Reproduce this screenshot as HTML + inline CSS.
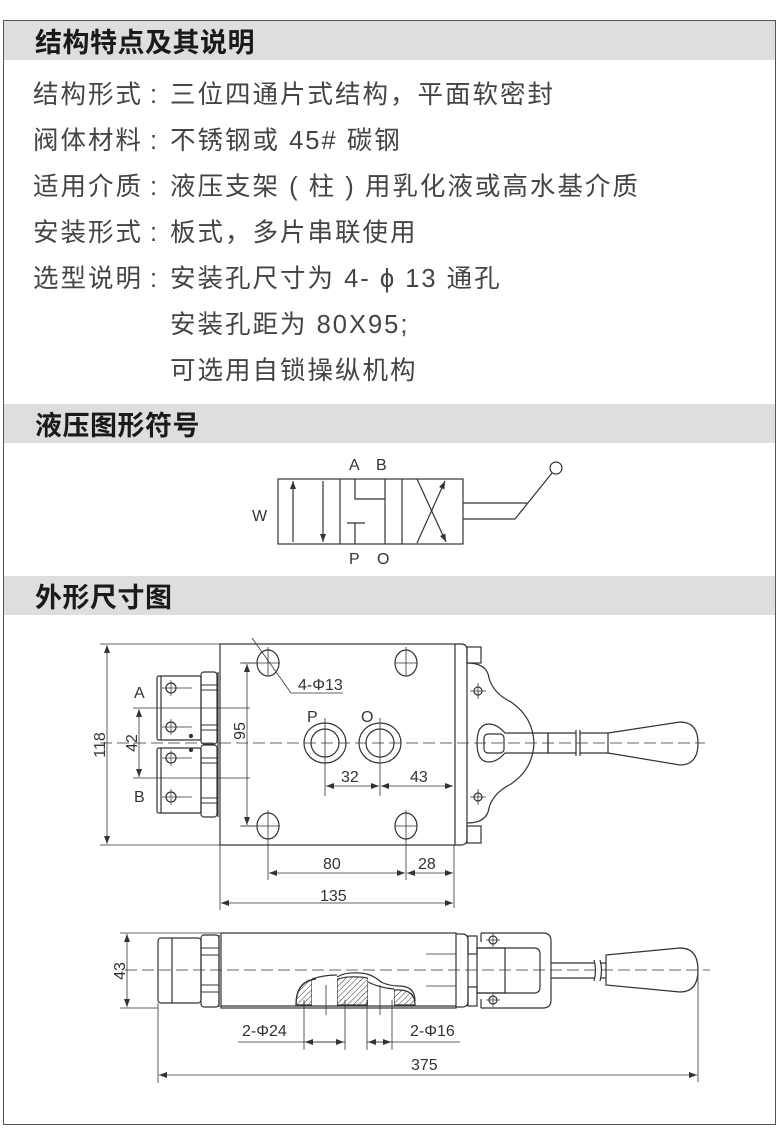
<!DOCTYPE html>
<html><head><meta charset="utf-8"><style>
body{margin:0;background:#fff;width:784px;height:1148px;position:relative;overflow:hidden;font-family:"Liberation Sans","Noto Sans CJK SC",sans-serif}
.frame{position:absolute;left:3px;top:20px;width:773px;height:1105px;border:1.5px solid #555;box-sizing:border-box}
.hd{position:absolute;left:4px;width:771px;height:39px;background:#dedede;font-weight:bold;font-size:27px;color:#1a1a1a;line-height:39px;padding-left:31px;box-sizing:border-box;font-family:"Noto Sans CJK SC",sans-serif;letter-spacing:0.5px}
.t{position:absolute;font-size:25.5px;color:#444;white-space:nowrap;line-height:30px;font-family:"Liberation Sans","Noto Sans CJK SC",sans-serif;letter-spacing:2px}
svg{position:absolute;left:0;top:0}
</style></head><body>
<div class="frame"></div>
<div class="hd" style="top:21px">结构特点及其说明</div>
<div class="hd" style="top:404px">液压图形符号</div>
<div class="hd" style="top:576px">外形尺寸图</div>

<div class="t" style="left:33px;top:80px">结构形式</div><div class="t" style="left:150px;top:80px">:</div><div class="t" style="left:170px;top:80px">三位四通片式结构，平面软密封</div>
<div class="t" style="left:33px;top:126px">阀体材料</div><div class="t" style="left:150px;top:126px">:</div><div class="t" style="left:170px;top:126px">不锈钢或 45# 碳钢</div>
<div class="t" style="left:33px;top:172px">适用介质</div><div class="t" style="left:150px;top:172px">:</div><div class="t" style="left:170px;top:172px">液压支架 ( 柱 ) 用乳化液或高水基介质</div>
<div class="t" style="left:33px;top:218px">安装形式</div><div class="t" style="left:150px;top:218px">:</div><div class="t" style="left:170px;top:218px">板式，多片串联使用</div>
<div class="t" style="left:33px;top:264px">选型说明</div><div class="t" style="left:150px;top:264px">:</div><div class="t" style="left:170px;top:264px">安装孔尺寸为 4- ϕ 13 通孔</div>
<div class="t" style="left:170px;top:310px">安装孔距为 80X95;</div>
<div class="t" style="left:170px;top:356px">可选用自锁操纵机构</div>

<svg width="784" height="1148" viewBox="0 0 784 1148" font-family="Liberation Sans, sans-serif" fill="none" stroke="#333" stroke-width="1.2">
<defs>
<marker id="ar" markerWidth="8" markerHeight="6" refX="8" refY="3" orient="auto-start-reverse" markerUnits="userSpaceOnUse"><path d="M0,0 L8,3 L0,6 z" fill="#333" stroke="none"/></marker>
<pattern id="hatch" width="4" height="4" patternUnits="userSpaceOnUse" patternTransform="rotate(45)"><line x1="0" y1="0" x2="0" y2="4" stroke="#333" stroke-width="1"/></pattern>
</defs>
<!-- hydraulic symbol -->
<g>
<rect x="278" y="479" width="185" height="65"/>
<line x1="340" y1="479" x2="340" y2="544"/><line x1="402" y1="479" x2="402" y2="544"/>
<line x1="293" y1="542" x2="293" y2="481" marker-end="url(#ar)"/>
<line x1="323" y1="481" x2="323" y2="542" marker-end="url(#ar)"/>
<polyline points="355,479 355,499 385,499"/><line x1="385" y1="479" x2="385" y2="544"/>
<line x1="347" y1="523" x2="365" y2="523"/><line x1="355" y1="523" x2="355" y2="544"/>
<line x1="417" y1="543" x2="445" y2="481" marker-end="url(#ar)"/>
<line x1="417" y1="479" x2="446" y2="542" marker-end="url(#ar)"/>
<polyline points="463,503 527,503"/><polyline points="463,519 515,519 552,473"/>
<circle cx="556" cy="468" r="6"/>
<g fill="#333" stroke="none" font-size="16"><text x="349" y="470">A</text><text x="376" y="470">B</text><text x="349" y="564">P</text><text x="377" y="564">O</text><text x="252" y="521">W</text></g>
</g>

<!-- top view -->
<g>
<rect x="220" y="644" width="235" height="201"/>
<path d="M455,644 h6 q6,0 6,6 v189 q0,6 -6,6 h-6"/>
<rect x="467" y="647" width="14" height="16"/><rect x="467" y="826" width="14" height="17"/>
<path d="M467,663 q20,0 22,15 q4,15 22,24 q22,15 23,41 q-1,26 -23,41 q-18,9 -22,24 q-2,15 -22,15"/>
<circle cx="478" cy="691" r="4"/><circle cx="478" cy="797" r="4"/>
<path d="M470,691 h16 M478,683 v16 M470,797 h16 M478,789 v16" stroke-width="0.8"/>
<g>
<ellipse cx="268" cy="663" rx="11" ry="13"/><ellipse cx="406" cy="663" rx="11" ry="13"/>
<ellipse cx="268" cy="826" rx="11" ry="13"/><ellipse cx="406" cy="826" rx="11" ry="13"/>
<g stroke-width="0.8"><path d="M240,663 h40 M395,663 h22 M268,647 v28 M406,647 v28 M240,826 h40 M395,826 h22 M268,810 v70 M406,810 v70"/></g>
<ellipse cx="325" cy="743" rx="21" ry="20"/><ellipse cx="325" cy="743" rx="14" ry="14"/>
<ellipse cx="380" cy="743" rx="21" ry="20"/><ellipse cx="380" cy="743" rx="14" ry="14"/>
<path d="M325,718 v78 M380,718 v78" stroke-width="0.8"/>
</g>
<path d="M252,638 L291,693 H343" stroke-width="0.8"/>
<path d="M489,724 q-12,0 -12,19 q0,19 12,19 q8,0 16,-9 l43,0 v-20 l-43,0 q-8,-9 -16,-9 z"/>
<rect x="484" y="734" width="20" height="19" rx="4"/>
<path d="M548,733 h28 M548,753 h28 M580,733 h28 M580,753 h28 M548,733 v20 M576,730 v26 M580,730 v26 M608,733 v20"/>
<path d="M608,733 L680,722 q18,0 18,21 q0,22 -18,22 L608,753"/>
<rect x="157" y="676" width="44" height="64" rx="2"/>
<rect x="157" y="748" width="44" height="65" rx="2"/>
<line x1="161" y1="676" x2="161" y2="740"/><line x1="161" y1="748" x2="161" y2="813"/>
<rect x="201" y="672" width="16" height="72" rx="3"/><rect x="201" y="745" width="16" height="72" rx="3"/>
<path d="M201,685 h16 M201,690 h16 M201,725 h16 M201,730 h16 M201,758 h16 M201,763 h16 M201,798 h16 M201,803 h16" stroke-width="0.9"/>
<line x1="218" y1="672" x2="218" y2="817"/>
<g><circle cx="171" cy="688" r="5"/><circle cx="171" cy="727" r="5"/><circle cx="171" cy="758" r="5"/><circle cx="171" cy="797" r="5"/>
<path d="M162,688 h30 M162,727 h30 M162,758 h30 M162,797 h30 M171,680 v16 M171,719 v16 M171,750 v16 M171,789 v16" stroke-width="0.7"/></g>
<circle cx="191" cy="750" r="1.5" fill="#333"/><circle cx="191" cy="736" r="1.5" fill="#333"/>
<line x1="100" y1="743" x2="705" y2="743" stroke-dasharray="12,5" stroke-width="0.8"/>
<g stroke-width="0.8">
<path d="M100,644 h120 M100,845 h120"/>
<line x1="107" y1="645" x2="107" y2="844" marker-start="url(#ar)" marker-end="url(#ar)"/>
<path d="M133,708 h117 M133,778 h117"/>
<line x1="139" y1="709" x2="139" y2="777" marker-start="url(#ar)" marker-end="url(#ar)"/>
<path d="M242,663 h14 M242,826 h14"/>
<line x1="247" y1="664" x2="247" y2="825" marker-start="url(#ar)" marker-end="url(#ar)"/>
<line x1="326" y1="786" x2="379" y2="786" marker-start="url(#ar)" marker-end="url(#ar)"/>
<line x1="381" y1="786" x2="453" y2="786" marker-start="url(#ar)" marker-end="url(#ar)"/>
<line x1="269" y1="873" x2="405" y2="873" marker-start="url(#ar)" marker-end="url(#ar)"/>
<line x1="407" y1="873" x2="453" y2="873" marker-start="url(#ar)" marker-end="url(#ar)"/>
<line x1="454" y1="845" x2="454" y2="908"/><line x1="220" y1="845" x2="220" y2="910"/>
<line x1="221" y1="903" x2="453" y2="903" marker-start="url(#ar)" marker-end="url(#ar)"/>
</g>
<g fill="#333" stroke="none" font-size="16">
<text x="298" y="690">4-Φ13</text>
<text x="307" y="722">P</text><text x="361" y="722">O</text>
<text x="341" y="782">32</text><text x="410" y="782">43</text>
<text x="323" y="869">80</text><text x="418" y="869">28</text>
<text x="320" y="901">135</text>
<text x="134" y="698">A</text><text x="134" y="802">B</text>
<text transform="translate(105,745) rotate(-90)" text-anchor="middle">118</text>
<text transform="translate(137,743) rotate(-90)" text-anchor="middle">42</text>
<text transform="translate(245,731) rotate(-90)" text-anchor="middle">95</text>
</g>
</g>

<!-- bottom view -->
<g>
<rect x="221" y="933" width="235" height="75"/>
<rect x="201" y="935" width="18" height="72" rx="3"/>
<path d="M201,948 h18 M201,955 h18 M201,985 h18 M201,992 h18" stroke-width="0.9"/>
<line x1="219" y1="935" x2="219" y2="1007"/>
<rect x="158" y="938" width="43" height="65" rx="3"/><line x1="172" y1="938" x2="172" y2="1003"/>
<path d="M456,934 h6 q6,0 6,6 v61 q0,6 -6,6 h-6"/>
<rect x="468" y="936" width="9" height="18"/><rect x="468" y="987" width="9" height="19"/>
<path d="M481,933 h62 q8,0 8,8 v59 q0,8 -8,8 h-62"/>
<path d="M481,942 v-9 M481,1008 v-9"/>
<path d="M477,948 h57 q6,0 6,6 v33 q0,6 -6,6 h-57"/>
<rect x="477" y="948" width="28" height="45"/>
<circle cx="493" cy="940" r="4"/><circle cx="493" cy="1000" r="4"/>
<path d="M486,940 h14 M493,933 v14 M486,1000 h14 M493,993 v14" stroke-width="0.7"/>
<path d="M551,963 h43 M551,978 h43 M600,963 h6 M600,978 h6 M594,960 q3,10 0,21 M600,960 q3,10 0,21"/>
<path d="M606,955 L680,948 q18,0 18,22 q0,22 -18,22 L606,985 z"/>
<path d="M456,954 h-30 M456,986 h-30" stroke-width="0.8"/>
<path d="M296,1005 q0,-24 20,-26 q10,-1 18,2 q8,-5 25,-4 q12,0 22,9 q8,4 18,4 q16,0 16,15 z" fill="url(#hatch)"/>
<path d="M312,1005 v-26 M337,1005 v-26 M368,1005 v-25 M394,1005 v-16" stroke="#333"/>
<rect x="312" y="976" width="25" height="30" fill="#fff" stroke="none"/>
<rect x="368" y="976" width="26" height="30" fill="#fff" stroke="none"/>
<path d="M312,979 q12,-4 25,-4 M368,982 q12,6 26,7" />
<line x1="221" y1="1006" x2="456" y2="1006"/>
<path d="M296,1005 q0,-24 20,-26 M337,977 q8,-5 22,-4 q12,0 22,9 q8,4 18,4 q16,0 16,15" />
<line x1="125" y1="970" x2="710" y2="970" stroke-dasharray="12,5" stroke-width="0.8"/>
<g stroke-width="0.8">
<path d="M304,1000 v50 M345,1000 v50 M367,1000 v50 M392,1000 v50 M326,985 v30 M380,985 v30"/>
<line x1="238" y1="1042" x2="345" y2="1042"/>
<line x1="305" y1="1042" x2="344" y2="1042" marker-start="url(#ar)" marker-end="url(#ar)"/>
<line x1="367" y1="1042" x2="460" y2="1042"/>
<line x1="368" y1="1042" x2="391" y2="1042" marker-start="url(#ar)" marker-end="url(#ar)"/>
<path d="M120,933 h101 M120,1008 h38"/>
<line x1="127" y1="934" x2="127" y2="1007" marker-start="url(#ar)" marker-end="url(#ar)"/>
<path d="M158,1003 v80 M698,970 v112"/>
<line x1="159" y1="1075" x2="697" y2="1075" marker-start="url(#ar)" marker-end="url(#ar)"/>
</g>
<g fill="#333" stroke="none" font-size="16">
<text x="242" y="1036">2-Φ24</text><text x="410" y="1036">2-Φ16</text>
<text x="411" y="1070">375</text>
<text transform="translate(125,971) rotate(-90)" text-anchor="middle">43</text>
</g>
</g>
</svg>
</body></html>
